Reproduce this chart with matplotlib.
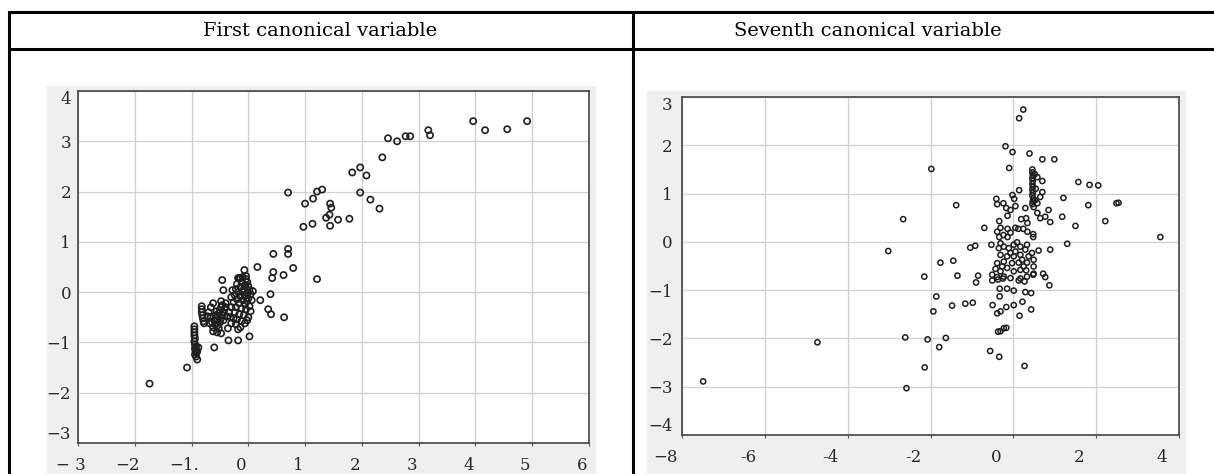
import matplotlib
matplotlib.use("Agg")
import matplotlib.pyplot as plt
from matplotlib.lines import Line2D
from matplotlib.patches import Rectangle
import matplotlib.transforms as mtransforms

# ---------------- data ----------------
headers = ["First canonical variable", "Seventh canonical variable"]

# First canonical variable scatter
first_x = [
    0.70, 1.00, 1.14, 1.21, 1.30, 0.97, 1.13,
    1.44, 1.46, 1.43, 1.37, 1.44, 1.58, 1.78,
    1.83, 1.97, 2.08, 1.97, 2.15, 2.31, 2.36,
    2.46, 2.62, 2.77, 2.85, 3.17, 3.20,
    3.96, 4.17, 4.56, 4.91,
    0.44, 0.70, 0.70, 0.16, -0.07, 0.44, 0.62, 0.79, 0.42, -0.46, -0.18, -0.14, 1.21,
    -0.44, 0.21, 0.39, 0.35, 0.40, 0.63, 0.02, -0.35, -0.18, -0.60, -1.08, -1.74,
    -0.95, -0.95, -0.95, -0.95, -0.94, -0.95, -0.94, -0.92, -0.94, -0.93, -0.92, -0.94, -0.92, -0.90, -0.88, -0.90,
    -0.82, -0.82, -0.82, -0.81, -0.80, -0.79, -0.78,
    -0.62, -0.48, -0.40, -0.70, -0.66, -0.64, -0.62, -0.62, -0.55, -0.48, -0.58, -0.56, -0.54,
    -0.52, -0.50, -0.48, -0.46, -0.54, -0.50, -0.48, -0.46, -0.44, -0.42, -0.40, -0.60, -0.52,
    -0.44, -0.38, -0.36, -0.34, -0.58, -0.66, -0.72, -0.68, -0.56, -0.30, -0.32,
    -0.16, -0.10, -0.04, -0.02, -0.12, -0.20, -0.06, 0.00, -0.14, -0.22, -0.08, 0.02, -0.18,
    -0.10, -0.02, 0.04, -0.24, -0.14, -0.06, 0.00, -0.20, -0.10, -0.02, 0.06, -0.26, -0.16,
    -0.06, 0.02, -0.22, -0.12, -0.04, 0.04, -0.24, -0.16, -0.08, 0.00, -0.20, -0.12, -0.06,
    -0.22, -0.14, -0.18, -0.02, -0.30, -0.28, 0.08, -0.04, -0.26, -0.30,
]
first_y = [
    1.98, 1.76, 1.86, 2.00, 2.04, 1.30, 1.36,
    1.76, 1.68, 1.54, 1.48, 1.32, 1.44, 1.46,
    2.38, 2.48, 2.32, 1.98, 1.84, 1.66, 2.68,
    3.06, 3.00, 3.10, 3.10, 3.22, 3.12,
    3.40, 3.22, 3.24, 3.40,
    0.76, 0.86, 0.76, 0.50, 0.44, 0.40, 0.34, 0.48, 0.28, 0.24, 0.28, 0.28, 0.26,
    0.04, -0.16, -0.04, -0.34, -0.44, -0.50, -0.88, -0.96, -0.96, -1.10, -1.50, -1.82,
    -0.68, -0.74, -0.80, -0.86, -0.92, -0.98, -1.04, -1.08, -1.12, -1.16, -1.20, -1.24, -1.28, -1.34, -1.10, -1.18,
    -0.28, -0.34, -0.40, -0.46, -0.52, -0.58, -0.62,
    -0.22, -0.18, -0.22, -0.40, -0.50, -0.60, -0.70, -0.78, -0.80, -0.82, -0.64, -0.56, -0.48,
    -0.42, -0.36, -0.30, -0.26, -0.66, -0.60, -0.52, -0.46, -0.40, -0.34, -0.30, -0.56, -0.72,
    -0.56, -0.48, -0.72, -0.40, -0.46, -0.30, -0.48, -0.62, -0.38, -0.30, -0.50,
    0.28, 0.30, 0.26, 0.20, 0.20, 0.16, 0.14, 0.12, 0.10, 0.06, 0.06, 0.04, 0.00,
    0.00, -0.02, -0.04, -0.06, -0.08, -0.08, -0.12, -0.14, -0.16, -0.18, -0.16, -0.20, -0.22,
    -0.24, -0.28, -0.30, -0.32, -0.34, -0.38, -0.40, -0.44, -0.46, -0.50, -0.54, -0.58, -0.62,
    -0.64, -0.70, -0.74, -0.56, -0.10, 0.04, 0.02, 0.32, -0.52, -0.62,
]

# Seventh canonical variable scatter
seventh_x = [
    -7.49, -4.73, -2.61, -2.58, -2.66, -3.02, 3.55,
    0.24, 0.14, -0.19, -0.02, 0.39, 0.70, 0.99, -1.98, -0.10,
    0.46, 0.46, 0.47, 0.46, 0.47, 0.46, 0.47, 0.46, 0.47, 0.46, 0.48, 0.47, 0.46, 0.49, 0.52, 0.54, 0.52,
    0.70, 0.70, 1.57, 1.84, 2.05, 1.21, 1.81, 2.49, 2.54, 1.18, 1.50, 2.22, 1.30, 0.89,
    -1.38, -0.70, -1.04, -0.92, -0.53, -1.76, -1.45, -2.15, -1.35, -0.85, -0.90,
    -0.41, -0.39, -0.24, -0.17, -0.14, -0.02, 0.02, 0.05, 0.14, -0.07, -0.34, 0.19, 0.31,
    0.34, 0.58, 0.65, 0.77, 0.85, 0.89, 0.29, 0.58, 0.65, 0.58,
    -0.39, -0.34, -0.31, -0.14, -0.07, 0.05, 0.12, 0.24, 0.34, 0.48, 0.48, -0.24, -0.14,
    -0.31, -0.35, -0.23, 0.01, 0.09, 0.17, 0.33, 0.29, 0.05, -0.31, -0.15, 0.01, 0.17,
    0.37, 0.49, -0.39, -0.23, -0.03, 0.13, 0.33, 0.49, -0.43, -0.31, -0.15, 0.01, 0.17,
    0.31, 0.49, -0.39, -0.23, -0.07, 0.17, 0.33, 0.61, -0.51, -0.07, 0.21, 0.45, -0.11,
    -0.27, 0.25,
    -0.51, -0.37, -0.25, -0.33, -0.15, 0.01, -0.33, 0.13, 0.27, 0.29, 0.43, 0.48, 0.72,
    0.77, 0.87, -0.50, -0.39, -0.31, -0.17, 0.01, 0.22, 0.43, 0.15, -0.37, -0.31, -0.23,
    -0.17, -0.56, -0.34, 0.27, -1.86, -1.93, -1.48, -1.16, -0.98, -2.07, -1.63, -1.79, -2.14,
]
seventh_y = [
    -2.89, -2.08, -1.98, -3.03, 0.47, -0.19, 0.10,
    2.74, 2.56, 1.98, 1.86, 1.83, 1.71, 1.71, 1.51, 1.53,
    1.50, 1.44, 1.38, 1.32, 1.26, 1.20, 1.14, 1.08, 1.02, 0.96, 0.90, 0.84, 0.78, 0.72, 1.40, 1.10, 0.86,
    1.26, 1.03, 1.24, 1.18, 1.17, 0.91, 0.76, 0.80, 0.81, 0.52, 0.33, 0.43, -0.04, -0.16,
    0.76, 0.29, -0.12, -0.08, -0.06, -0.43, -0.39, -0.72, -0.70, -0.70, -0.84,
    0.89, 0.78, 0.80, 0.70, 0.54, 0.97, 0.89, 0.74, 1.07, 0.66, 0.43, 0.47, 0.49,
    0.39, 0.60, 0.49, 0.52, 0.66, 0.41, 0.70, 0.80, 0.93, 1.34,
    0.21, 0.10, 0.29, 0.27, 0.19, 0.29, 0.27, 0.27, 0.21, 0.16, 0.10, 0.14, 0.10,
    -0.03, -0.13, -0.10, -0.06, -0.01, -0.10, -0.06, -0.16, -0.20, -0.27, -0.30, -0.30, -0.27,
    -0.30, -0.37, -0.44, -0.41, -0.44, -0.43, -0.43, -0.51, -0.56, -0.61, -0.54, -0.61, -0.58,
    -0.59, -0.66, -0.73, -0.72, -0.75, -0.76, -0.72, -0.18, -0.68, -0.23, -0.37, -0.23, -0.13,
    -0.51, -0.51,
    -0.80, -0.78, -0.76, -0.97, -0.97, -1.01, -1.13, -0.80, -0.82, -1.04, -1.06, -0.68, -0.66,
    -0.73, -0.90, -1.31, -1.48, -1.44, -1.35, -1.31, -1.24, -1.40, -1.53, -1.86, -1.85, -1.79,
    -1.78, -2.26, -2.38, -2.57, -1.13, -1.44, -1.32, -1.28, -1.26, -2.02, -1.99, -2.18, -2.60,
]

first_xticks = [-3, -2, -1, 0, 1, 2, 3, 4, 5, 6]
first_xlabels = ["\u2212 3", "\u22122", "\u22121.", "0", "1", "2", "3", "4", "5", "6"]
first_yticks = [4, 3, 2, 1, 0, -1, -2, -3]
first_ylabels = ["4", "3", "2", "1", "0", "\u22121", "\u22122", "\u22123"]

seventh_xticks = [-8, -6, -4, -2, 0, 2, 4]
seventh_xlabels = ["\u22128", "-6", "-4", "-2", "0", "2", "4"]
seventh_yticks = [3, 2, 1, 0, -1, -2, -3, -4]
seventh_ylabels = ["3", "2", "1", "0", "\u22121", "\u22122", "\u22123", "\u22124"]

# ---------------- figure ----------------
W, H = 1214, 474
fig = plt.figure(figsize=(W / 100, H / 100), dpi=100)
fig.patch.set_facecolor("white")

SERIF = ["DejaVu Serif"]


def fx(px):
    return px / W


def fy(py):
    return 1 - py / H


# light grey picture frames behind each chart
for (x0, y0, x1, y1) in [(47, 86, 596, 476), (647, 91, 1186, 476)]:
    fig.add_artist(Rectangle((fx(x0), fy(y1)), (x1 - x0) / W, (y1 - y0) / H,
                             transform=fig.transFigure, facecolor="#efefef",
                             edgecolor="none", zorder=-5))

# table rules
lw_table = 2.2
for y in (12, 49):
    fig.add_artist(Line2D([fx(8), fx(1214)], [fy(y), fy(y)], transform=fig.transFigure,
                          color="black", lw=lw_table, solid_capstyle="butt"))
for x in (9, 633):
    fig.add_artist(Line2D([fx(x), fx(x)], [fy(11), fy(474)], transform=fig.transFigure,
                          color="black", lw=lw_table, solid_capstyle="butt"))

fig.text(fx(320), fy(31), headers[0], ha="center", va="center", fontsize=14, family=SERIF)
fig.text(fx(868), fy(31), headers[1], ha="center", va="center", fontsize=14, family=SERIF)


def make_axes(rect_px, x, y, xlim, ylim, xticks, xlabels, yticks, ylabels,
              msize, mlw, xshift, ypad):
    x0, y0, x1, y1 = rect_px
    ax = fig.add_axes([fx(x0), fy(y1), (x1 - x0) / W, (y1 - y0) / H])
    ax.set_facecolor("white")
    ax.set_xlim(*xlim)
    ax.set_ylim(*ylim)
    ax.set_xticks(xticks)
    ax.set_xticklabels(xlabels, family=SERIF, fontsize=12, color="#2a2a2a")
    ax.set_yticks(yticks)
    ax.set_yticklabels(ylabels, family=SERIF, fontsize=12, color="#2a2a2a")
    ax.tick_params(axis="x", length=2, pad=8, color="#555555")
    ax.tick_params(axis="y", length=0, pad=ypad)
    ax.grid(True, color="#cfcfcf", lw=0.9)
    ax.set_axisbelow(True)
    for sp in ax.spines.values():
        sp.set_color("#444444")
        sp.set_linewidth(1.2)
    offset = mtransforms.ScaledTranslation(xshift / 100, 0, fig.dpi_scale_trans)
    for lab in ax.get_xticklabels():
        lab.set_transform(lab.get_transform() + offset)
    ylabs = ax.get_yticklabels()
    ylabs[0].set_va("top")
    ylabs[-1].set_va("bottom")
    ax.scatter(x, y, s=msize, facecolors="none", edgecolors="#1e1e1e",
               linewidths=mlw, zorder=3, clip_on=False)
    return ax


make_axes((78, 91, 589, 443), first_x, first_y, (-3, 6), (-3, 4),
          first_xticks, first_xlabels, first_yticks, first_ylabels, 20, 1.2, -7, 5)
make_axes((682, 97, 1179, 435), seventh_x, seventh_y, (-8, 4), (-4, 3),
          seventh_xticks, seventh_xlabels, seventh_yticks, seventh_ylabels, 14, 1.1, -17, 7)

fig.savefig("out.png", dpi=100)
